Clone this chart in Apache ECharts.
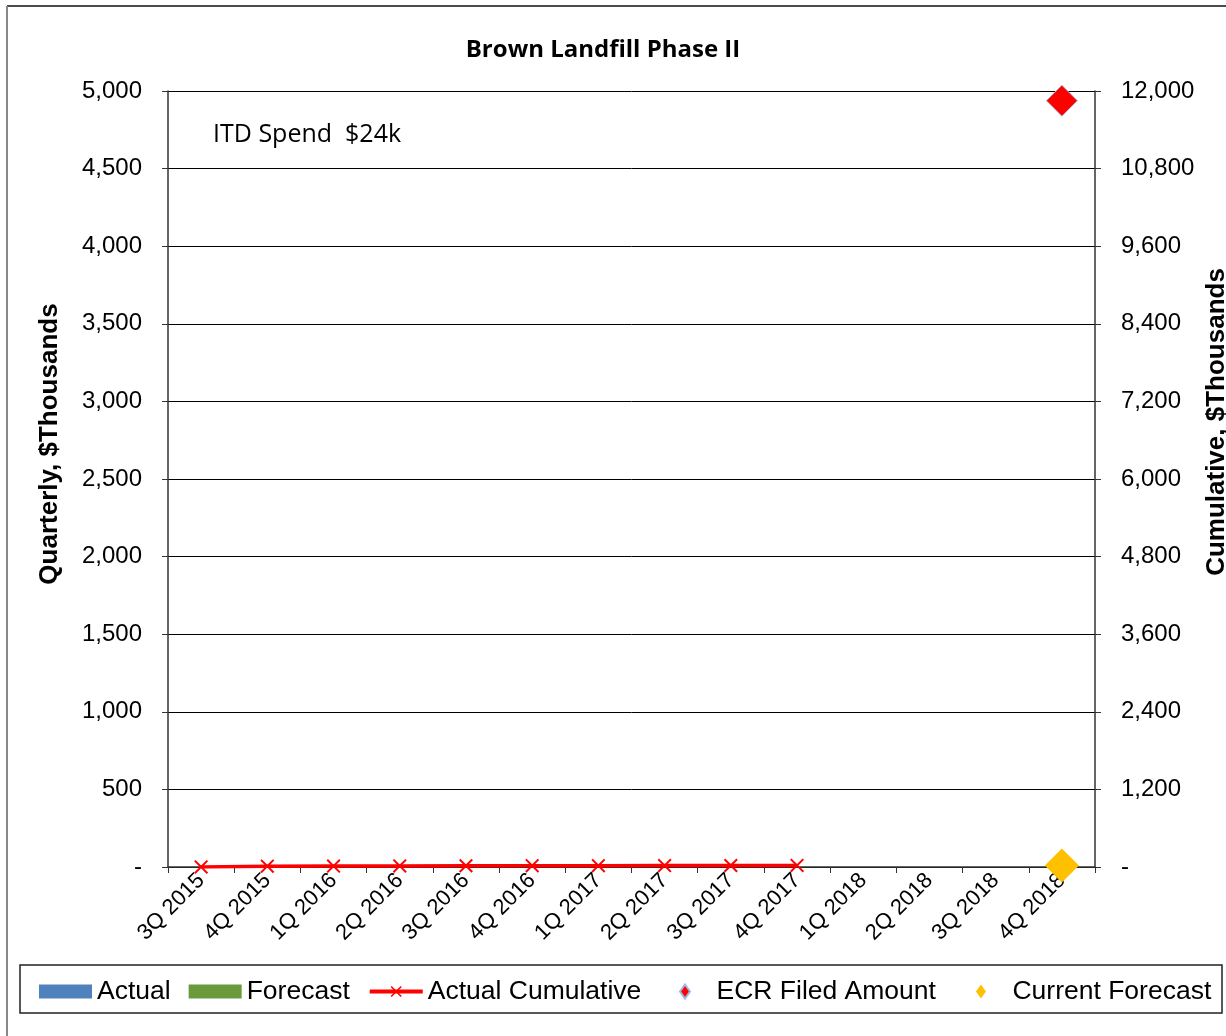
<!DOCTYPE html>
<html>
<head>
<meta charset="utf-8">
<script src="https://cdn.jsdelivr.net/npm/echarts@6/dist/echarts.min.js"></script>
<style>
html,body{margin:0;padding:0;background:#fff;}
#chart{width:1226px;height:1036px;}
</style>
</head>
<body>
<div id="chart"></div>
<script>
// quarters on the category axis
var quarters = ['3Q 2015','4Q 2015','1Q 2016','2Q 2016','3Q 2016','4Q 2016','1Q 2017','2Q 2017','3Q 2017','4Q 2017','1Q 2018','2Q 2018','3Q 2018','4Q 2018'];
// quarterly spend, $k (too small to see at this scale)
var actualQ   = [0.5, 12.5, 2, 2, 2, 1, 1, 1, 1, 1, null, null, null, null];
var forecastQ = [null, null, null, null, null, null, null, null, null, null, 0, 0, 0, 0];
// cumulative, $k
var actualCum = [0.5, 13, 15, 17, 19, 20, 21, 22, 23, 24];
var ecrFiled  = [null, null, null, null, null, null, null, null, null, null, null, null, null, 11850];
var curForecast = [null, null, null, null, null, null, null, null, null, null, null, null, null, 24];

var leftTicks = {min: 0, max: 5000, interval: 500};
var rightTicks = {min: 0, max: 12000, interval: 1200};

var xMark = 'path://M0,1L1,0L5,4L9,0L10,1L6,5L10,9L9,10L5,6L1,10L0,9L4,5Z';
var diamond = 'path://M5,0L10,7L5,14L0,7Z';

function fmt(v){
	if(v === 0) return '-';
	return v.toLocaleString('en-US');
}

var legendText = {fontFamily: 'Liberation Sans', fontSize: 26.5, color: '#000'};

var myChart = echarts.init(document.getElementById('chart'));
var option = {
	animation: false,
	backgroundColor: '#fff',
	textStyle: {fontFamily: 'Liberation Sans'},
	grid: {left: 168, right: 131, top: 91, bottom: 169, outerBoundsMode: 'none'},
	legend: [
		{
			left: 39, top: 978, padding: 0,
			itemWidth: 53, itemHeight: 14, itemGap: 18,
			textStyle: legendText,
			data: [
				{name: 'Actual', icon: 'rect'},
				{name: 'Forecast', icon: 'rect'},
				{name: 'Actual Cumulative', lineStyle: {width: 4}}
			]
		},
		{
			left: 679, top: 978, padding: 0,
			itemWidth: 53, itemHeight: 14, itemGap: 40,
			textStyle: legendText,
			data: [
				{name: 'ECR Filed Amount', icon: diamond},
				{name: 'Current Forecast', icon: diamond}
			]
		}
	],
	graphic: [
		// chart frame: only top and left edges fall inside the picture
		{type: 'line', shape: {x1: 7, y1: 6, x2: 1226, y2: 6}, style: {stroke: '#111', lineWidth: 1.5}, silent: true},
		{type: 'line', shape: {x1: 7, y1: 6, x2: 7, y2: 1036}, style: {stroke: '#888', lineWidth: 2}, silent: true},
		{type: 'rect', shape: {x: 20, y: 965, width: 1202, height: 48}, style: {fill: 'none', stroke: '#222', lineWidth: 1.5}, silent: true},
		{type: 'text', x: 603, y: 50, style: {text: 'Brown Landfill Phase II', font: 'bold 24px "Open Sans"', fill: '#000', align: 'center', verticalAlign: 'middle'}},
		{type: 'text', x: 213, y: 135, style: {text: 'ITD Spend  $24k', font: '25px "Open Sans"', fill: '#000', align: 'left', verticalAlign: 'middle'}},
		{type: 'text', x: 50, y: 444, rotation: Math.PI / 2, style: {text: 'Quarterly, $Thousands', font: 'bold 26px "Liberation Sans"', fill: '#000', align: 'center', verticalAlign: 'middle'}},
		{type: 'text', x: 1217, y: 422, rotation: Math.PI / 2, style: {text: 'Cumulative, $Thousands', font: 'bold 26px "Liberation Sans"', fill: '#000', align: 'center', verticalAlign: 'middle'}}
	],
	xAxis: {
		type: 'category',
		data: quarters,
		boundaryGap: true,
		axisLine: {lineStyle: {color: '#333', width: 1.5}},
		axisTick: {show: true, length: 6, lineStyle: {color: '#333'}},
		axisLabel: {rotate: 45, margin: 10, fontSize: 22, color: '#000', fontFamily: 'Liberation Sans', interval: 0},
		splitLine: {show: false}
	},
	yAxis: [
		{
			type: 'value', min: leftTicks.min, max: leftTicks.max, interval: leftTicks.interval,
			position: 'left',
			axisLine: {show: true, lineStyle: {color: '#333', width: 1.5}},
			axisTick: {show: true, length: 6, lineStyle: {color: '#333'}},
			axisLabel: {fontSize: 24, color: '#000', margin: 26, formatter: fmt},
			splitLine: {show: true, lineStyle: {color: '#000', width: 1}}
		},
		{
			type: 'value', min: rightTicks.min, max: rightTicks.max, interval: rightTicks.interval,
			position: 'right',
			axisLine: {show: true, lineStyle: {color: '#333', width: 1.5}},
			axisTick: {show: true, length: 6, lineStyle: {color: '#333'}},
			axisLabel: {fontSize: 24, color: '#000', margin: 26, formatter: fmt},
			splitLine: {show: false}
		}
	],
	series: [
		{name: 'Actual', type: 'bar', yAxisIndex: 0, data: actualQ, itemStyle: {color: '#4F81BD'}},
		{name: 'Forecast', type: 'bar', yAxisIndex: 0, data: forecastQ, itemStyle: {color: '#6B9A3C'}},
		{
			name: 'Actual Cumulative', type: 'line', yAxisIndex: 1, data: actualCum,
			symbol: xMark, symbolSize: 14, showAllSymbol: true,
			lineStyle: {color: '#FF0000', width: 3.5},
			itemStyle: {color: '#FF0000'}
		},
		{
			name: 'ECR Filed Amount', type: 'scatter', yAxisIndex: 1, data: ecrFiled,
			symbol: 'diamond', symbolSize: 31, z: 5,
			itemStyle: {color: '#FF0000', borderColor: '#9DB9E0', borderWidth: 1, opacity: 1}
		},
		{
			name: 'Current Forecast', type: 'scatter', yAxisIndex: 1, data: curForecast,
			symbol: 'diamond', symbolSize: 34, z: 5,
			itemStyle: {color: '#FFC000', opacity: 1}
		}
	]
};
myChart.setOption(option);
</script>
</body>
</html>
